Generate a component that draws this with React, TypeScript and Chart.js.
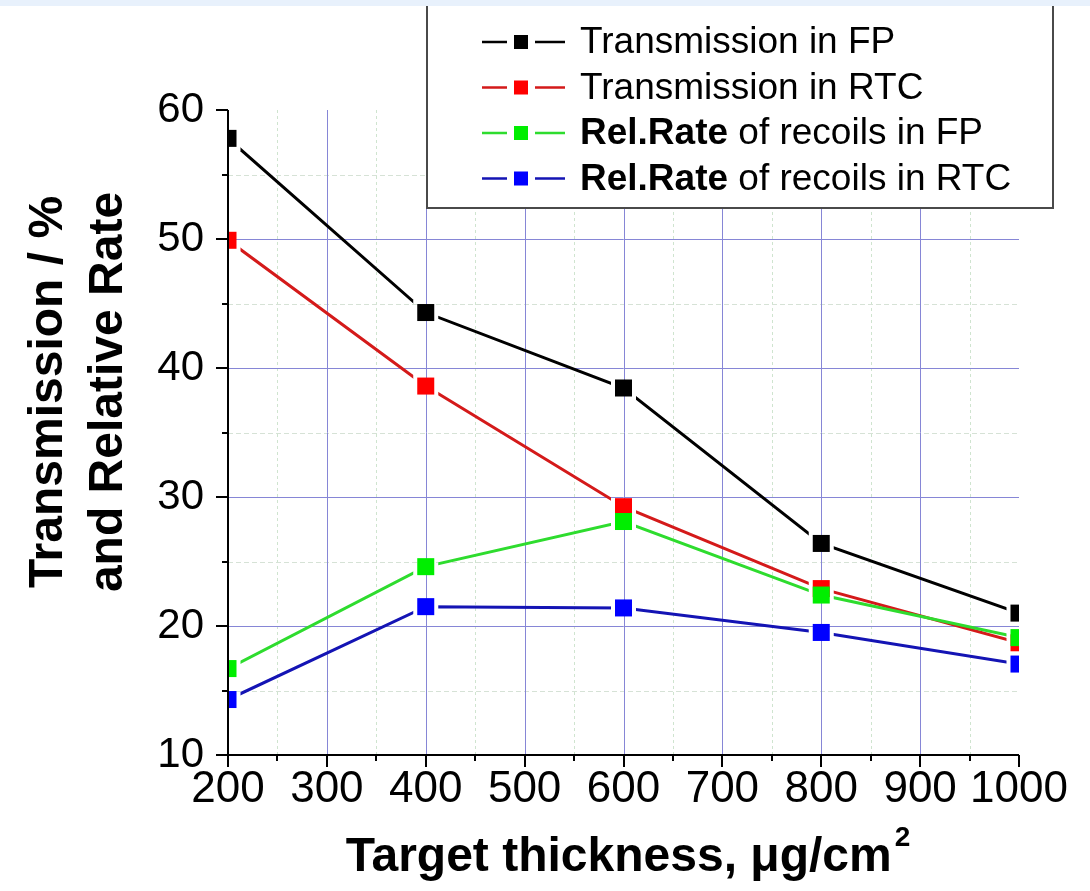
import React, { useEffect, useRef } from 'react';
import { Chart, registerables } from 'chart.js';

Chart.register(...registerables);

// Target thickness in µg/cm²
const thickness = [200, 400, 600, 800, 1000];

// Values in %
const transmissionFP = [57.8, 44.3, 38.45, 26.4, 21.0];
const transmissionRTC = [49.9, 38.6, 29.25, 22.9, 18.7];
const recoilRateFP = [16.7, 24.6, 28.1, 22.4, 19.1];
const recoilRateRTC = [14.3, 21.5, 21.4, 19.5, 17.05];

const seriesBold = ['', '', 'Rel.Rate', 'Rel.Rate'];
const seriesRest = ['Transmission in FP', 'Transmission in RTC', ' of recoils in FP', ' of recoils in RTC'];
const lineColors = ['#000000', '#d41a1a', '#2edc2e', '#1414b4'];
const markerColors = ['#000000', '#ff0000', '#00ee00', '#0000ff'];

const xMin = 200;
const xMax = 1000;
const yMin = 10;
const yMax = 60;

const FONT = '"Liberation Sans", Arial, Helvetica, sans-serif';
const HALF = 8.5; // half side of a square marker
const GAP = 12.5; // half side of the clear zone around each marker

const W = 1090;
const H = 891;

const frame = {
  id: 'frame',
  beforeDatasetsDraw(chart: any) {
    const { ctx, chartArea: a, scales } = chart;
    const x = scales.x;
    const y = scales.y;
    ctx.save();
    ctx.lineWidth = 1;
    // minor grid
    ctx.strokeStyle = '#cfe4cf';
    ctx.setLineDash([3, 3]);
    for (let v = 250; v < xMax; v += 100) {
      const px = Math.round(x.getPixelForValue(v)) + 0.5;
      ctx.beginPath();
      ctx.moveTo(px, a.top);
      ctx.lineTo(px, a.bottom);
      ctx.stroke();
    }
    ctx.strokeStyle = '#d6e2d6';
    ctx.setLineDash([5, 3]);
    for (let v = 15; v < yMax; v += 10) {
      const py = Math.round(y.getPixelForValue(v)) + 0.5;
      ctx.beginPath();
      ctx.moveTo(a.left, py);
      ctx.lineTo(a.right, py);
      ctx.stroke();
    }
    // major grid
    ctx.setLineDash([]);
    ctx.strokeStyle = '#8686d6';
    for (let v = 300; v < xMax; v += 100) {
      const px = Math.round(x.getPixelForValue(v)) + 0.5;
      ctx.beginPath();
      ctx.moveTo(px, a.top);
      ctx.lineTo(px, a.bottom);
      ctx.stroke();
    }
    for (let v = 20; v < yMax; v += 10) {
      const py = Math.round(y.getPixelForValue(v)) + 0.5;
      ctx.beginPath();
      ctx.moveTo(a.left, py);
      ctx.lineTo(a.right, py);
      ctx.stroke();
    }
    ctx.restore();
  },
  beforeDatasetDraw(chart: any, args: any) {
    const { ctx, chartArea: a } = chart;
    ctx.save();
    ctx.beginPath();
    ctx.rect(a.left - 30, a.top - 30, a.right - a.left + 60, a.bottom - a.top + 60);
    args.meta.data.forEach((pt: any) => {
      ctx.rect(pt.x - GAP, pt.y - GAP, GAP * 2, GAP * 2);
    });
    ctx.clip('evenodd');
  },
  afterDatasetDraw(chart: any, args: any) {
    const { ctx, chartArea: a } = chart;
    ctx.restore();
    ctx.save();
    ctx.beginPath();
    ctx.rect(a.left, a.top, a.right - a.left, a.bottom - a.top);
    ctx.clip();
    ctx.fillStyle = markerColors[args.index];
    args.meta.data.forEach((pt: any) => {
      ctx.fillRect(pt.x - HALF, pt.y - HALF, HALF * 2, HALF * 2);
    });
    ctx.restore();
  },
  afterDraw(chart: any) {
    const { ctx, chartArea: a, scales } = chart;
    const x = scales.x;
    const y = scales.y;
    ctx.save();
    // axes
    ctx.strokeStyle = '#000';
    ctx.lineWidth = 2;
    ctx.beginPath();
    ctx.moveTo(a.left, a.top);
    ctx.lineTo(a.left, a.bottom);
    ctx.lineTo(a.right, a.bottom);
    ctx.stroke();
    for (let v = yMin; v <= yMax; v += 5) {
      const py = Math.round(y.getPixelForValue(v));
      const len = v % 10 === 0 ? 12 : 6;
      ctx.beginPath();
      ctx.moveTo(a.left, py);
      ctx.lineTo(a.left - len, py);
      ctx.stroke();
    }
    for (let v = xMin; v <= xMax; v += 50) {
      const px = Math.round(x.getPixelForValue(v));
      const len = v % 100 === 0 ? 12 : 6;
      ctx.beginPath();
      ctx.moveTo(px, a.bottom);
      ctx.lineTo(px, a.bottom + len);
      ctx.stroke();
    }

    // axis titles
    ctx.fillStyle = '#000';
    ctx.font = `bold 48px ${FONT}`;
    ctx.textAlign = 'center';
    ctx.textBaseline = 'alphabetic';
    ctx.save();
    ctx.translate(62, 392);
    ctx.rotate(-Math.PI / 2);
    ctx.fillText('Transmission / %', 0, 0);
    ctx.restore();
    ctx.save();
    ctx.translate(122, 392);
    ctx.rotate(-Math.PI / 2);
    ctx.fillText('and Relative Rate', 0, 0);
    ctx.restore();

    const xTitle = 'Target thickness, \u03bcg/cm';
    ctx.textAlign = 'left';
    ctx.font = `bold 48px ${FONT}`;
    const tw = ctx.measureText(xTitle).width;
    ctx.font = `bold 28px ${FONT}`;
    const sw = ctx.measureText('2').width;
    const startX = 628 - (tw + sw + 3) / 2;
    ctx.font = `bold 48px ${FONT}`;
    ctx.fillText(xTitle, startX, 871);
    ctx.font = `bold 28px ${FONT}`;
    ctx.fillText('2', startX + tw + 3, 846);

    // legend
    const lx0 = 427;
    const lx1 = 1053;
    const ly1 = 208;
    ctx.fillStyle = '#fff';
    ctx.fillRect(lx0, -10, lx1 - lx0, ly1 + 10);
    ctx.strokeStyle = '#4a4a4a';
    ctx.lineWidth = 2;
    ctx.strokeRect(lx0, -10, lx1 - lx0, ly1 + 10);
    const rows = [42, 87.5, 133, 178.5];
    rows.forEach((cy, i) => {
      ctx.strokeStyle = lineColors[i];
      ctx.lineWidth = 2.5;
      ctx.beginPath();
      ctx.moveTo(482, cy);
      ctx.lineTo(507, cy);
      ctx.moveTo(535, cy);
      ctx.lineTo(565, cy);
      ctx.stroke();
      ctx.fillStyle = markerColors[i];
      ctx.fillRect(514, cy - 7, 14, 14);
      ctx.fillStyle = '#000';
      ctx.textBaseline = 'middle';
      let tx = 580;
      if (seriesBold[i]) {
        ctx.font = `bold 37px ${FONT}`;
        ctx.fillText(seriesBold[i], tx, cy + 1);
        tx += ctx.measureText(seriesBold[i]).width;
      }
      ctx.font = `37px ${FONT}`;
      ctx.fillText(seriesRest[i], tx, cy + 1);
    });

    // top band
    ctx.fillStyle = '#e8f1fc';
    ctx.fillRect(0, 0, W, 6);
    ctx.restore();
  },
};

export default function App() {
  const ref = useRef<HTMLCanvasElement>(null);

  useEffect(() => {
    document.body.style.margin = '0';
    document.body.style.background = '#fff';
    const canvas = ref.current!;
    const series = [transmissionFP, transmissionRTC, recoilRateFP, recoilRateRTC];
    const chart = new Chart(canvas, {
      type: 'line',
      data: {
        datasets: series.map((vals, i) => ({
          label: seriesBold[i] + seriesRest[i],
          data: thickness.map((t, k) => ({ x: t, y: vals[k] })),
          borderColor: lineColors[i],
          backgroundColor: markerColors[i],
          borderWidth: 3,
          pointRadius: 0,
          pointHoverRadius: 0,
          tension: 0,
          fill: false,
          order: 4 - i,
          clip: 0,
        })),
      },
      options: {
        responsive: false,
        animation: false,
        devicePixelRatio: 1,
        events: [],
        layout: { padding: { top: 110, right: 71, left: 0, bottom: 0 } },
        plugins: {
          legend: { display: false },
          tooltip: { enabled: false },
        },
        scales: {
          x: {
            type: 'linear',
            min: xMin,
            max: xMax,
            grid: { display: false, drawTicks: false },
            border: { display: false },
            ticks: {
              stepSize: 100,
              padding: 8,
              color: '#000',
              maxRotation: 0,
              autoSkip: false,
              font: { family: FONT, size: 44 },
              callback: (v: any) => String(v),
            },
            afterFit: (scale: any) => {
              scale.height = H - 755;
            },
          },
          y: {
            type: 'linear',
            min: yMin,
            max: yMax,
            grid: { display: false, drawTicks: false },
            border: { display: false },
            ticks: {
              stepSize: 10,
              padding: 24,
              color: '#000',
              font: { family: FONT, size: 42 },
              callback: (v: any) => String(v),
            },
            afterFit: (scale: any) => {
              scale.width = 228;
            },
          },
        },
      },
      plugins: [frame],
    } as any);
    return () => chart.destroy();
  }, []);

  return (
    <div style={{ width: W, height: H, position: 'relative', overflow: 'hidden', background: '#fff' }}>
      <canvas ref={ref} width={W} height={H} style={{ display: 'block' }} />
    </div>
  );
}
